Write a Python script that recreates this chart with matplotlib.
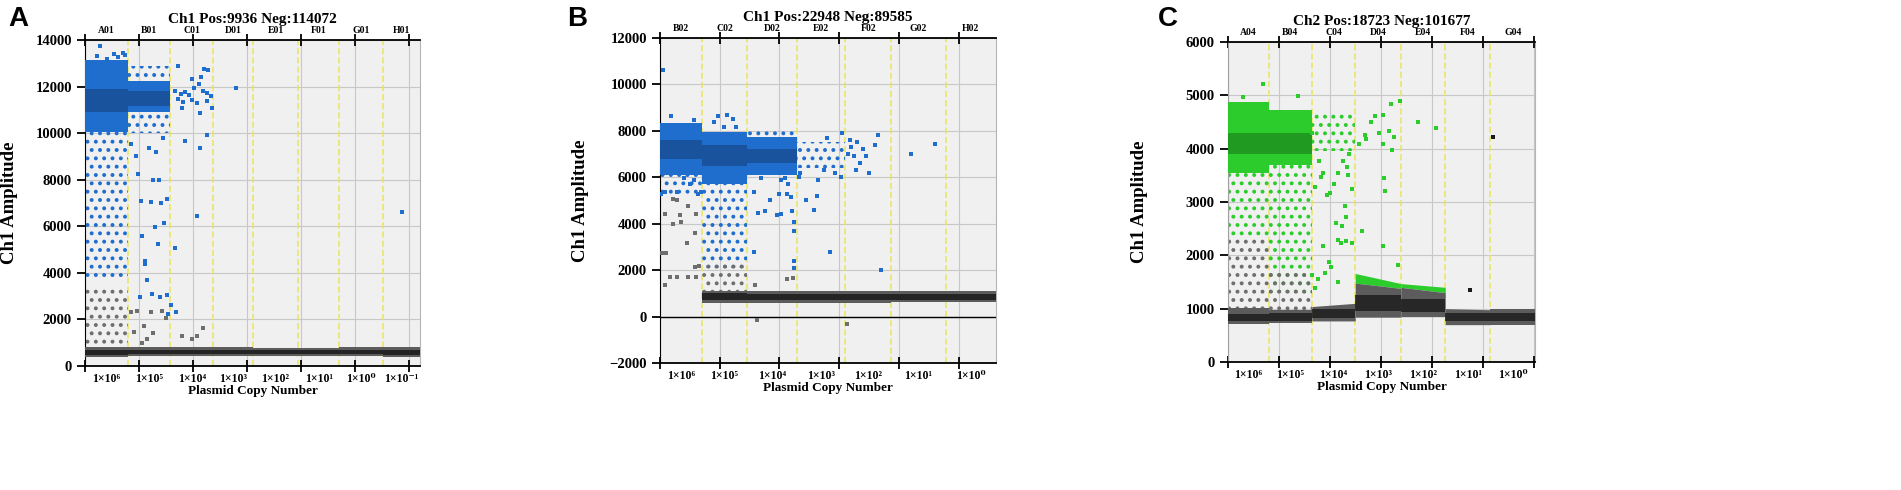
import numpy as np
import matplotlib
matplotlib.use('Agg')
import matplotlib.pyplot as plt
from matplotlib.transforms import blended_transform_factory

plt.rcParams['font.family'] = ['Liberation Serif', 'DejaVu Serif']
plt.rcParams['font.weight'] = 'bold'
plt.rcParams['axes.labelweight'] = 'bold'
plt.rcParams['axes.titleweight'] = 'bold'
plt.rcParams['hatch.linewidth'] = 1.6

nan = np.nan

# ---------------- panel A : Ch1, wells A01..H01 ----------------
a_wells = ['A01', 'B01', 'C01', 'D01', 'E01', 'F01', 'G01', 'H01']
a_copies = ['1×10⁶', '1×10⁵', '1×10⁴', '1×10³', '1×10²', '1×10¹', '1×10⁰', '1×10⁻¹']
a_events = [16000, 15595, 15797, 14886, 16507, 15392, 16123, 13708]
a_neg_low = [400, 420, 420, 420, 420, 420, 420, 400]
a_neg_high = [820, 800, 800, 800, 790, 790, 800, 800]
a_neg_core_low = [480, 500, 500, 500, 500, 500, 500, 490]
a_neg_core_high = [700, 700, 700, 700, 690, 690, 700, 700]
a_pos_low = [10030, 10900, nan, nan, nan, nan, nan, nan]
a_pos_high = [13150, 12250, nan, nan, nan, nan, nan, nan]
a_pos_core_low = [10900, 11150, nan, nan, nan, nan, nan, nan]
a_pos_core_high = [11900, 11800, nan, nan, nan, nan, nan, nan]
a_rain_pos = [(0, 3800, 10030), (1, 12250, 12900), (1, 10000, 10900)]
a_rain_neg = [(0, 820, 3300)]
a_pts_pos = [(5570, 13740), (10630, 13380), (14180, 13440), (14680, 13340), (4560, 13320),
             (8100, 13200), (12150, 13260),
             (17200, 9550), (18700, 9010), (19700, 8230), (20250, 2970), (20760, 7100),
             (21270, 5600), (22080, 4400), (22790, 3690), (23800, 9370), (24300, 7040),
             (25300, 7990), (25820, 5960), (26330, 9190), (26840, 5240), (27340, 7990),
             (28150, 6980), (28860, 9800), (29370, 6140), (30180, 7160), (30380, 3030),
             (30890, 2250), (24810, 3090), (27850, 2970), (22280, 4520),
             (34430, 12900), (39500, 12330), (44050, 12760), (45570, 12720), (43040, 12420),
             (33420, 11820), (35440, 11700), (36960, 11760), (38480, 11640), (40510, 11940),
             (42020, 12090), (43540, 11820), (45060, 11730), (46580, 11580), (34430, 11460),
             (36450, 11340), (39500, 11440), (41520, 11280), (45060, 11400), (47090, 11100),
             (35950, 11100), (42530, 10870), (45060, 9940), (36960, 9670), (42530, 9370),
             (41520, 6440), (33420, 5060), (33620, 2310), (31900, 2610),
             (56000, 11940), (117500, 6600)]
a_pts_neg = [(17200, 2310), (19240, 2370), (21770, 1710), (24300, 2310), (28360, 2370),
             (29870, 2070), (18230, 1470), (22790, 1170), (25320, 1410), (21270, 990),
             (35950, 1290), (41520, 1290), (43540, 1650), (39500, 1170)]

# ---------------- panel B : Ch1, wells B02..H02 ----------------
b_wells = ['B02', 'C02', 'D02', 'E02', 'F02', 'G02', 'H02']
b_copies = ['1×10⁶', '1×10⁵', '1×10⁴', '1×10³', '1×10²', '1×10¹', '1×10⁰']
b_events = [14037, 15137, 16698, 16128, 15500, 18188, 16845]
b_neg_low = [nan, 600, 600, 600, 600, 620, 620]
b_neg_high = [nan, 1120, 1080, 1080, 1080, 1080, 1080]
b_neg_core_low = [nan, 700, 700, 700, 700, 720, 720]
b_neg_core_high = [nan, 1000, 960, 960, 960, 960, 960]
b_pos_low = [6100, 5700, 6100, nan, nan, nan, nan]
b_pos_high = [8350, 7970, 7750, nan, nan, nan, nan]
b_pos_core_low = [6800, 6500, 6600, nan, nan, nan, nan]
b_pos_core_high = [7600, 7400, 7200, nan, nan, nan, nan]
b_rain_pos = [(0, 5300, 6100), (1, 2100, 5700), (2, 7750, 8000), (3, 6400, 7500)]
b_rain_neg = [(0, 780, 980), (1, 1120, 2300)]
b_pts_pos = [(1010, 10610), (3760, 8630), (11290, 8450), (280, 5260), (1650, 5380),
             (5780, 5380), (8070, 5990), (9910, 5690), (11280, 5870), (12660, 5260),
             (13580, 5380), (19540, 8630), (22290, 8690), (24590, 8510), (18160, 8390),
             (25500, 8150), (21380, 8150),
             (31470, 5380), (32840, 4480), (35140, 4540), (36970, 5020), (39260, 4360),
             (39720, 5260), (40640, 5870), (42020, 5990), (42470, 5260), (42930, 5690),
             (43850, 5140), (44310, 4540), (44760, 4060), (45040, 3700), (45040, 2380),
             (45040, 2080), (40640, 4420), (31470, 2800), (33760, 5990), (37890, 6170),
             (46500, 6000), (47000, 6200), (49000, 5000), (51500, 4600), (52500, 5200),
             (53000, 5900), (55000, 6300), (58500, 6200), (60500, 6000), (57000, 2800),
             (61000, 7900), (56000, 7700),
             (63000, 7000), (64000, 7300), (65000, 6900), (66000, 7500), (67000, 6600),
             (68000, 7200), (70000, 6200), (72000, 7400), (63500, 7600), (65500, 6300),
             (69000, 6900), (73000, 7800), (74000, 2000), (84000, 7000), (92000, 7450)]
b_pts_neg = [(4400, 5080), (5780, 5000), (9450, 4780), (12200, 4420), (1650, 4420),
             (6700, 4360), (4400, 4000), (7160, 4060), (8990, 3160), (11740, 3580),
             (730, 2740), (2110, 2740), (5780, 1720), (9450, 1720), (12200, 1720),
             (11740, 2140), (13030, 2200), (1650, 1360), (3490, 1720),
             (44590, 1660), (42470, 1600), (31930, 1360), (32380, -140), (62500, -300)]

# ---------------- panel C : Ch2, wells A04..G04 ----------------
c_wells = ['A04', 'B04', 'C04', 'D04', 'E04', 'F04', 'G04']
c_copies = ['1×10⁶', '1×10⁵', '1×10⁴', '1×10³', '1×10²', '1×10¹', '1×10⁰']
c_events = [16047, 16825, 17020, 17992, 17312, 17700, 17504]
c_neg_low = [720, 740, 770, 840, 850, 700, 700]
c_neg_top_left = [1020, 970, 1040, 1480, 1400, 1000, 1000]
c_neg_top_right = [1020, 970, 1100, 1380, 1300, 980, 1000]
c_neg_core_low = [760, 770, 820, 950, 930, 760, 760]
c_neg_core_high = [900, 920, 1000, 1250, 1180, 910, 910]
c_cap_top_left = [nan, nan, nan, 1660, 1470, nan, nan]
c_cap_top_right = [nan, nan, nan, 1470, 1400, nan, nan]
c_pos_low = [3550, 3700, nan, nan, nan, nan, nan]
c_pos_high = [4870, 4720, nan, nan, nan, nan, nan]
c_pos_core_low = [3900, 3900, nan, nan, nan, nan, nan]
c_pos_core_high = [4300, 4300, nan, nan, nan, nan, nan]
c_rain_pos = [(0, 2300, 3550), (1, 1300, 3700), (2, 3950, 4650)]
c_rain_neg = [(0, 1020, 2300), (1, 970, 1700)]
c_pts_pos = [(13540, 5210), (5860, 4970), (27470, 4980),
             (34190, 3290), (35630, 3760), (36590, 3470), (38990, 3130), (39950, 3160),
             (41390, 3340), (43310, 3550), (45230, 3760), (46670, 3660), (47150, 3500),
             (48590, 3240), (42350, 2600), (44750, 2550), (46190, 2710), (45710, 2920),
             (43310, 2290), (44270, 2240), (46190, 2260), (48590, 2240), (37070, 2180),
             (40430, 1790), (38030, 1660), (35150, 1550), (43310, 1500), (39470, 1870),
             (34190, 1390), (32750, 1630), (37070, 3550), (47500, 3900), (33000, 4300),
             (51300, 4080), (52430, 2450), (56200, 4500), (57700, 4605), (60600, 4630),
             (64000, 4840), (67400, 4895), (59100, 4290), (63000, 4340), (65000, 4210),
             (54300, 4180), (53800, 4260), (60600, 4080), (64500, 3970), (61000, 3450),
             (61600, 3210), (60600, 2180), (66840, 1815), (74330, 4500), (81730, 4380)]
c_pts_neg = [(103820, 4210), (94980, 1350)]

BLUE, BLUE_DARK = '#1f6dcc', '#17488a'
GREEN, GREEN_DARK = '#2bcc2b', '#1a7a1a'
NEG, NEG_DARK = '#5c5c5c', '#1a1a1a'
RAIN_GREY = '#6e6e6e'


def edges_of(events):
    return np.concatenate([[0], np.cumsum(events)])


def bands(ax, edges, low, high, color, high_r=None, low_r=None, z=3, alpha=1.0):
    for i in range(len(edges) - 1):
        if np.isnan(low[i]) or np.isnan(high[i]):
            continue
        lr = low[i] if low_r is None else low_r[i]
        hr = high[i] if high_r is None else high_r[i]
        ax.fill_between([edges[i], edges[i + 1]], [low[i], lr], [high[i], hr],
                        color=color, linewidth=0, zorder=z, alpha=alpha)


def rain(ax, edges, regions, color):
    for i, lo, hi in regions:
        ax.fill_between([edges[i], edges[i + 1]], lo, hi, facecolor='none',
                        edgecolor=color, hatch='..', linewidth=0, zorder=2.5)


def dots(ax, pts, color):
    xy = np.array(pts, dtype=float)
    ax.scatter(xy[:, 0], xy[:, 1], s=7, marker='s', color=color, linewidths=0, zorder=4)


def frame(ax, edges, wells, copies, ylim, ystep, title, ylab_x, left_col):
    total = edges[-1]
    centers = (edges[:-1] + edges[1:]) / 2
    ax.set_xlim(0, total)
    ax.set_ylim(*ylim)
    ax.set_facecolor('#f0f0f0')
    ax.set_yticks(np.arange(ylim[0], ylim[1] + 1, ystep))
    ax.set_xticks(np.arange(0, total, 20000))
    ax.set_xticks(centers, minor=True)
    ax.set_xticklabels(copies, minor=True)
    ax.tick_params(axis='x', which='major', direction='inout', length=9, width=1.3,
                   top=True, labelbottom=False)
    ax.tick_params(axis='x', which='minor', length=0, labelsize=8.5, pad=5)
    ax.tick_params(axis='y', direction='out', length=6, width=1.3, labelsize=10.5)
    ax.grid(True, which='major', color='#c8c8c8', linewidth=0.8)
    ax.set_axisbelow(True)
    for e in edges[1:-1]:
        ax.axvline(e, color='#ece35c', linestyle=(0, (4, 2)), linewidth=1.1, zorder=1.5)
    tr = blended_transform_factory(ax.transData, ax.transAxes)
    for c, w in zip(centers, wells):
        ax.text(c, 1.03, w, transform=tr, ha='center', va='center', fontsize=7)
    ax.set_title(title, fontsize=11, pad=12)
    ax.set_ylabel('Ch1 Amplitude', fontsize=13.5)
    ax.yaxis.set_label_coords(ylab_x, 0.5)
    ax.set_xlabel('Plasmid Copy Number', fontsize=9.5, labelpad=0)
    ax.spines['top'].set_linewidth(1.3)
    ax.spines['bottom'].set_linewidth(1.3)
    ax.spines['left'].set_color(left_col)
    ax.spines['right'].set_color('#b5b5b5')


fig = plt.figure(figsize=(19.01, 4.9), dpi=100)
W, H = 1901.0, 490.0
ax_a = fig.add_axes([85 / W, (H - 366) / H, 335 / W, 326 / H])
ax_b = fig.add_axes([660 / W, (H - 363) / H, 336 / W, 325 / H])
ax_c = fig.add_axes([1228 / W, (H - 362) / H, 307 / W, 320 / H])

# panel A
ea = edges_of(a_events)
frame(ax_a, ea, a_wells, a_copies, (0, 14000), 2000, 'Ch1 Pos:9936 Neg:114072', -0.2, 'black')
rain(ax_a, ea, a_rain_pos, BLUE)
rain(ax_a, ea, a_rain_neg, RAIN_GREY)
bands(ax_a, ea, a_pos_low, a_pos_high, BLUE)
bands(ax_a, ea, a_pos_core_low, a_pos_core_high, BLUE_DARK, z=3.1, alpha=0.7)
bands(ax_a, ea, a_neg_low, a_neg_high, NEG)
bands(ax_a, ea, a_neg_core_low, a_neg_core_high, NEG_DARK, z=3.1, alpha=0.85)
dots(ax_a, a_pts_pos, BLUE)
dots(ax_a, a_pts_neg, RAIN_GREY)

# panel B
eb = edges_of(b_events)
frame(ax_b, eb, b_wells, b_copies, (-2000, 12000), 2000, 'Ch1 Pos:22948 Neg:89585', -0.21, 'black')
ax_b.axhline(0, color='black', linewidth=1.0, zorder=1.6)
rain(ax_b, eb, b_rain_pos, BLUE)
rain(ax_b, eb, b_rain_neg, RAIN_GREY)
bands(ax_b, eb, b_pos_low, b_pos_high, BLUE)
bands(ax_b, eb, b_pos_core_low, b_pos_core_high, BLUE_DARK, z=3.1, alpha=0.7)
bands(ax_b, eb, b_neg_low, b_neg_high, NEG)
bands(ax_b, eb, b_neg_core_low, b_neg_core_high, NEG_DARK, z=3.1, alpha=0.85)
dots(ax_b, b_pts_pos, BLUE)
dots(ax_b, b_pts_neg, RAIN_GREY)

# panel C
ec = edges_of(c_events)
frame(ax_c, ec, c_wells, c_copies, (0, 6000), 1000, 'Ch2 Pos:18723 Neg:101677', -0.26, '#a0a0a0')
rain(ax_c, ec, c_rain_pos, GREEN)
rain(ax_c, ec, c_rain_neg, RAIN_GREY)
bands(ax_c, ec, c_pos_low, c_pos_high, GREEN)
bands(ax_c, ec, c_pos_core_low, c_pos_core_high, GREEN_DARK, z=3.1, alpha=0.6)
bands(ax_c, ec, c_neg_top_left, c_cap_top_left, GREEN, high_r=c_cap_top_right, low_r=c_neg_top_right)
bands(ax_c, ec, c_neg_low, c_neg_top_left, NEG, high_r=c_neg_top_right)
bands(ax_c, ec, c_neg_core_low, c_neg_core_high, NEG_DARK, z=3.1, alpha=0.8)
dots(ax_c, c_pts_pos, GREEN)
dots(ax_c, c_pts_neg, NEG_DARK)

for x, letter in [(8, 'A'), (567, 'B'), (1158, 'C')]:
    fig.text(x / W, 1 - 19 / H, letter, fontsize=20, fontweight='bold',
             family='Liberation Sans', ha='left', va='center')

fig.savefig('out.png', dpi=100)
